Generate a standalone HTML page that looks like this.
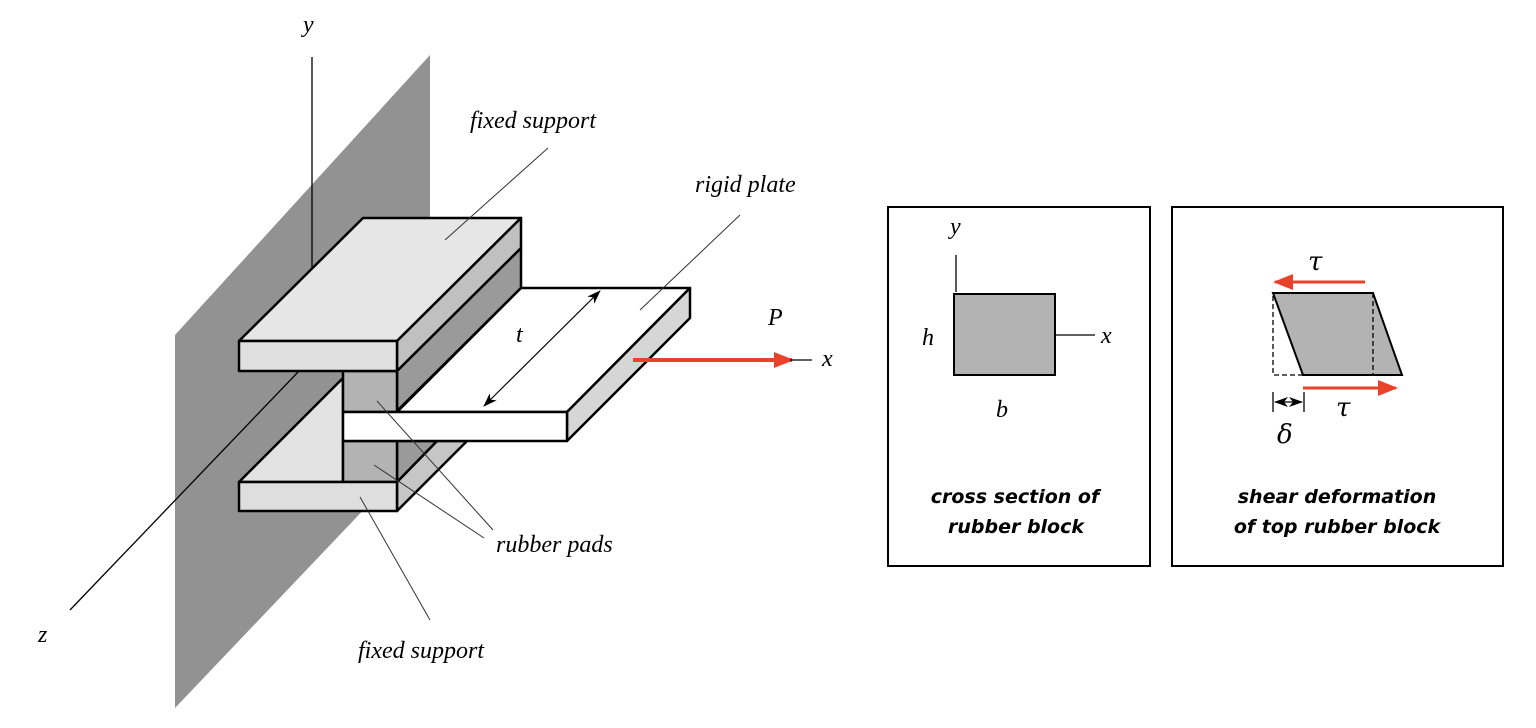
<!DOCTYPE html>
<html><head><meta charset="utf-8"><style>
html,body{margin:0;padding:0;background:#fff;width:1536px;height:728px;overflow:hidden}
svg{display:block}
.s{font-family:"Liberation Serif",serif;font-style:italic;font-size:24px}
.g{font-family:"DejaVu Serif","Liberation Serif",serif;font-style:italic;font-size:26px}
.c{font-family:"DejaVu Sans","Liberation Sans",sans-serif;font-style:italic;font-weight:bold;font-size:19px}
</style></head><body>
<svg width="1536" height="728" viewBox="0 0 1536 728">
<defs>
<marker id="ah" markerWidth="14" markerHeight="10" refX="13" refY="5" orient="auto" markerUnits="userSpaceOnUse"><path d="M0,0 L14,5 L0,10 L4,5z" fill="#000"/></marker>
<marker id="ah2" markerWidth="14" markerHeight="10" refX="1" refY="5" orient="auto" markerUnits="userSpaceOnUse"><path d="M14,0 L0,5 L14,10 L10,5z" fill="#000"/></marker>
<marker id="ra" markerWidth="20" markerHeight="16" refX="18" refY="8" orient="auto" markerUnits="userSpaceOnUse"><path d="M0,0 L20,8 L0,16z" fill="#e8432a"/></marker>
</defs>
<polygon points="175,335 430,55 430,440 175,708" fill="#929292"/>
<line x1="312" y1="57" x2="312" y2="268" stroke="#000" stroke-width="1.3"/>
<line x1="70" y1="610" x2="299" y2="371" stroke="#000" stroke-width="1.3"/>
<text class="s" x="303" y="32">y</text>
<text class="s" x="38" y="642">z</text>
<g stroke="#000" stroke-width="2.5" stroke-linejoin="round">
<!-- bottom -->
<polygon points="239,482 343,378 343,482" fill="#e3e3e3"/>
<polygon points="397,482 437,441 467,441 397,511" fill="#c6c6c6"/>
<polygon points="397,441 437,441 397,482" fill="#9a9a9a"/>
<rect x="343" y="441" width="54" height="41" fill="#b3b3b3"/>
<rect x="239" y="482" width="158" height="29" fill="#dedede"/>
<!-- top pad -->
<polygon points="397,371 521,248 521,288 397,411" fill="#9a9a9a"/>
<rect x="343" y="371" width="54" height="41" fill="#b3b3b3"/>
<!-- top plate -->
<polygon points="239,341 363,218 521,218 397,341" fill="#e6e6e6"/>
<polygon points="397,341 521,218 521,248 397,371" fill="#c0c0c0"/>
<rect x="239" y="341" width="158" height="30" fill="#e0e0e0"/>
<!-- rigid plate -->
<polygon points="397,412 521,288 690,288 567,412" fill="#fff"/>
<polygon points="567,412 690,288 690,318 567,441" fill="#d6d6d6"/>
<rect x="343" y="412" width="224" height="29" fill="#fff"/>
</g>
<line x1="484" y1="406" x2="600" y2="291" stroke="#000" stroke-width="1.2" marker-end="url(#ah)" marker-start="url(#ah2)"/>
<text class="s" x="516" y="342">t</text>
<line x1="633" y1="360" x2="792" y2="360" stroke="#e8432a" stroke-width="4" marker-end="url(#ra)"/>
<line x1="790" y1="360" x2="812" y2="360" stroke="#000" stroke-width="1.3"/>
<text class="s" x="768" y="325">P</text>
<text class="s" x="822" y="366">x</text>
<g stroke="#333" stroke-width="1">
<line x1="548" y1="148" x2="445" y2="240"/>
<line x1="740" y1="215" x2="640" y2="310"/>
<line x1="493" y1="530" x2="377" y2="401"/>
<line x1="484" y1="538" x2="374" y2="465"/>
<line x1="430" y1="620" x2="360" y2="497"/>
</g>
<text class="s" x="470" y="128">fixed support</text>
<text class="s" x="695" y="192">rigid plate</text>
<text class="s" x="496" y="552">rubber pads</text>
<text class="s" x="358" y="658">fixed support</text>
<!-- box 1 -->
<rect x="888" y="207" width="262" height="359" fill="none" stroke="#000" stroke-width="2"/>
<rect x="954" y="294" width="101" height="81" fill="#b3b3b3" stroke="#000" stroke-width="2"/>
<line x1="956" y1="255" x2="956" y2="292" stroke="#000" stroke-width="1.3"/>
<line x1="1055" y1="335" x2="1095" y2="335" stroke="#000" stroke-width="1.3"/>
<text class="s" x="950" y="234">y</text>
<text class="s" x="1101" y="343">x</text>
<text class="s" x="922" y="345">h</text>
<text class="s" x="996" y="417">b</text>
<text class="c" x="1015" y="503" text-anchor="middle">cross section of</text>
<text class="c" x="1016" y="533" text-anchor="middle">rubber block</text>
<!-- box 2 -->
<rect x="1172" y="207" width="331" height="359" fill="none" stroke="#000" stroke-width="2"/>
<polyline points="1303,375 1273,375 1273,293" fill="none" stroke="#000" stroke-width="1.3" stroke-dasharray="5,3"/>
<polygon points="1273,293 1373,293 1402,375 1303,375" fill="#b3b3b3" stroke="#000" stroke-width="2"/>
<line x1="1373" y1="293" x2="1373" y2="375" stroke="#000" stroke-width="1.3" stroke-dasharray="5,3"/>
<line x1="1365" y1="282" x2="1275" y2="282" stroke="#e8432a" stroke-width="3" marker-end="url(#ra)"/>
<line x1="1303" y1="388" x2="1396" y2="388" stroke="#e8432a" stroke-width="3" marker-end="url(#ra)"/>
<text class="g" x="1308" y="270">τ</text>
<text class="g" x="1336" y="416">τ</text>
<line x1="1273" y1="392" x2="1273" y2="412" stroke="#000" stroke-width="1.3"/>
<line x1="1304" y1="392" x2="1304" y2="412" stroke="#000" stroke-width="1.3"/>
<line x1="1275" y1="402" x2="1302" y2="402" stroke="#000" stroke-width="1.2" marker-end="url(#ah)" marker-start="url(#ah2)"/>
<text class="g" x="1277" y="443">δ</text>
<text class="c" x="1337" y="503" text-anchor="middle">shear deformation</text>
<text class="c" x="1337" y="533" text-anchor="middle">of top rubber block</text>
</svg>
</body></html>
